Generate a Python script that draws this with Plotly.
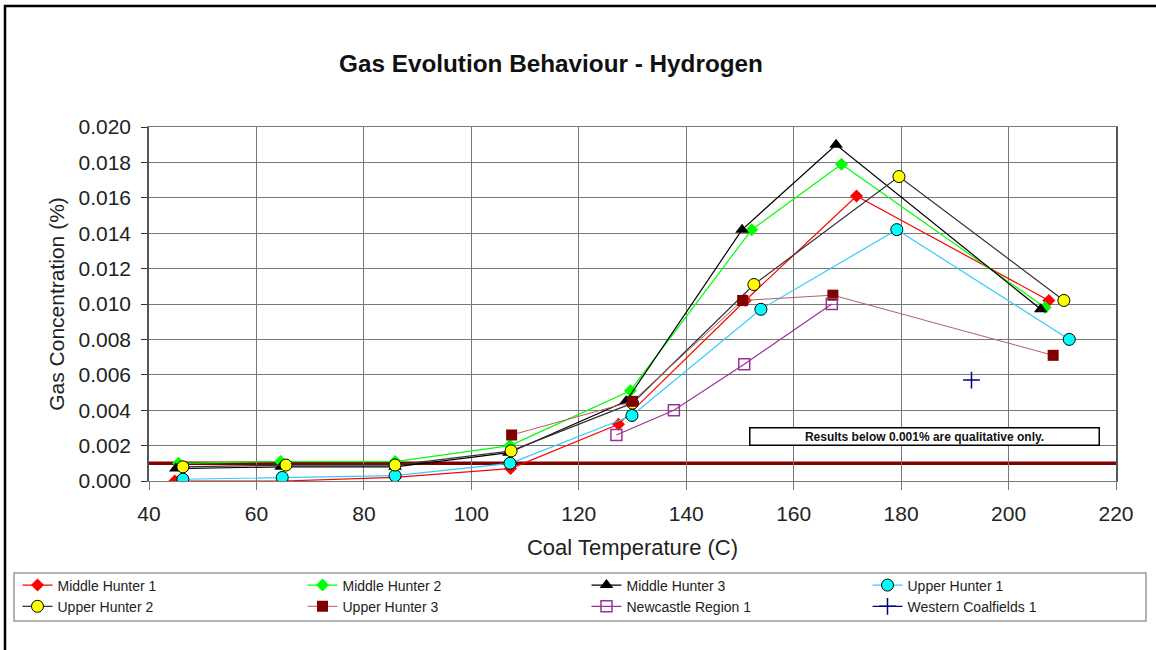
import plotly.graph_objects as go

# ---- data ----
series_names = ["Middle Hunter 1", "Middle Hunter 2", "Middle Hunter 3", "Upper Hunter 1",
                "Upper Hunter 2", "Upper Hunter 3", "Newcastle Region 1", "Western Coalfields 1"]

mh1_x = [44.8, 64.9, 85.8, 107.3, 127.4, 151.0, 171.7, 207.5]
mh1_y = [0.0000, 0.0000, 0.0002, 0.0007, 0.0032, 0.0102, 0.0161, 0.0102]

mh2_x = [45.5, 64.5, 85.8, 107.2, 129.6, 152.2, 168.9, 206.8]
mh2_y = [0.0010, 0.0011, 0.0011, 0.0020, 0.0051, 0.0142, 0.0179, 0.0098]

mh3_x = [45.0, 64.6, 85.8, 107.0, 128.8, 150.4, 167.9, 206.0]
mh3_y = [0.0007, 0.0008, 0.0008, 0.0016, 0.0045, 0.0142, 0.0190, 0.0097]

uh1_x = [46.3, 64.8, 85.8, 107.2, 129.9, 153.9, 179.2, 211.3]
uh1_y = [0.0001, 0.0002, 0.0003, 0.0010, 0.0037, 0.0097, 0.0142, 0.0080]

uh2_x = [46.3, 65.5, 85.8, 107.4, 130.0, 152.6, 179.6, 210.3]
uh2_y = [0.0008, 0.0009, 0.0009, 0.0017, 0.0044, 0.0111, 0.0172, 0.0102]

uh3_x = [107.5, 130.0, 150.5, 167.3, 208.3]
uh3_y = [0.0026, 0.0045, 0.0102, 0.0105, 0.0071]

ncr1_x = [127.0, 137.7, 150.8, 167.1]
ncr1_y = [0.0026, 0.0040, 0.0066, 0.0100]

wc1_x = [193.1]
wc1_y = [0.0057]

threshold = 0.001
note_text = "Results below 0.001% are qualitative only."

x_ticks = [40, 60, 80, 100, 120, 140, 160, 180, 200, 220]
y_ticks = [0.000, 0.002, 0.004, 0.006, 0.008, 0.010, 0.012, 0.014, 0.016, 0.018, 0.020]

# ---- styles ----
styles = [
    dict(line=dict(color="#FF0000", width=1.2), marker=dict(symbol="diamond", size=10, color="#FF0000")),
    dict(line=dict(color="#00FF00", width=1.2), marker=dict(symbol="diamond", size=10, color="#00FF00")),
    dict(line=dict(color="#000000", width=1.2), marker=dict(symbol="triangle-up", size=12, color="#000000")),
    dict(line=dict(color="#33CCFF", width=1.2), marker=dict(symbol="circle", size=12, color="#00FFFF",
                                                        line=dict(color="#000000", width=1))),
    dict(line=dict(color="#333333", width=1.2), marker=dict(symbol="circle", size=12, color="#FFFF00",
                                                        line=dict(color="#000000", width=1))),
    dict(line=dict(color="#B06060", width=1), marker=dict(symbol="square", size=11, color="#800000")),
    dict(line=dict(color="#993399", width=1.2), marker=dict(symbol="square-open", size=11, color="#993399",
                                                        line=dict(width=1.5))),
    dict(line=dict(color="#000080", width=1.2), marker=dict(symbol="cross-thin", size=12, color="#000080",
                                                        line=dict(color="#000080", width=1.5))),
]

# legend column for each series (4 columns x 2 rows, as in the reference)
legend_ids = ["legend", "legend2", "legend3", "legend4", "legend", "legend2", "legend3", "legend4"]
legend_text_px = [58, 343, 627, 908]   # left edge of legend text per column

xs = [mh1_x, mh2_x, mh3_x, uh1_x, uh2_x, uh3_x, ncr1_x, wc1_x]
ys = [mh1_y, mh2_y, mh3_y, uh1_y, uh2_y, uh3_y, ncr1_y, wc1_y]

fig = go.Figure()
for i, (name, x, y, st) in enumerate(zip(series_names, xs, ys, styles)):
    fig.add_trace(go.Scatter(x=x, y=y, name=name, mode="lines+markers",
                             line=st["line"], marker=st["marker"],
                             legend=legend_ids[i], legendrank=i))

FONT = "Liberation Sans, Arial, sans-serif"

# horizontal legends with a very wide entry width wrap to one entry per row,
# giving a 2-row column without reserving side margins
legend_common = dict(orientation="h", xanchor="left", xref="container",
                     y=1 - 569.5/650, yanchor="top", yref="container",
                     bgcolor="rgba(0,0,0,0)", borderwidth=0,
                     font=dict(size=14, color="#222222", family=FONT),
                     itemwidth=30, entrywidth=700, entrywidthmode="pixels",
                     traceorder="normal")

layout_legends = {}
for k, lid in enumerate(["legend", "legend2", "legend3", "legend4"]):
    layout_legends[lid] = dict(legend_common, x=(legend_text_px[k] - 40.5) / 1156)

fig.update_layout(
    width=1156, height=650,
    margin=dict(l=149, r=40, t=127, b=169),
    paper_bgcolor="white", plot_bgcolor="white",
    font=dict(family=FONT, color="#222222"),
    title=dict(text="<b>Gas Evolution Behaviour - Hydrogen</b>", x=551/1156, xanchor="center",
               xref="container", y=1 - 63/650, yanchor="middle", yref="container",
               font=dict(size=24.3, color="#111111")),
    showlegend=True,
    **layout_legends,
)

fig.update_xaxes(range=[40, 220], tickvals=x_ticks, ticktext=[str(v) for v in x_ticks],
                 showgrid=True, gridcolor="#777777", gridwidth=1.3,
                 showline=True, linecolor="#777777", linewidth=1.3, mirror=True,
                 ticks="outside", ticklen=8, tickcolor="#777777", tickwidth=1.3,
                 ticklabelstandoff=6,
                 tickfont=dict(size=21, color="#222222"), zeroline=False,
                 title=dict(text="Coal Temperature (C)", font=dict(size=22, color="#222222"), standoff=15))
fig.update_yaxes(range=[0, 0.020], tickvals=y_ticks, ticktext=[f"{v:.3f}" for v in y_ticks],
                 showgrid=True, gridcolor="#777777", gridwidth=1.3,
                 showline=True, linecolor="#555555", linewidth=1.5, mirror=True,
                 ticks="outside", ticklen=6, tickcolor="#333333", tickwidth=1.3,
                 ticklabelstandoff=6,
                 tickfont=dict(size=21, color="#222222"), zeroline=False,
                 title=dict(text="Gas Concentration (%)", font=dict(size=21, color="#222222"), standoff=8))

# threshold line (between grid and traces)
fig.add_shape(type="line", xref="paper", yref="y", x0=0, x1=1, y0=threshold, y1=threshold,
              line=dict(color="#800000", width=3.5), layer="between")

# note box
fig.add_annotation(x=184.4, y=0.00254, xref="x", yref="y", text=f"<b>{note_text}</b>",
                   showarrow=False, width=348, height=16, bgcolor="white",
                   bordercolor="#000000", borderwidth=1.5, borderpad=0,
                   font=dict(size=12, color="#111111", family=FONT))

# legend frame
fig.add_shape(type="rect", xref="paper", yref="paper",
              x0=(14 - 149) / 967, x1=(1146 - 149) / 967,
              y0=(481 - 621) / 354, y1=(481 - 573) / 354,
              line=dict(color="#999999", width=1.5), fillcolor="rgba(0,0,0,0)", layer="below")

# outer frame
fig.add_shape(type="rect", xref="paper", yref="paper",
              x0=(5 - 149) / 967, x1=(1170 - 149) / 967,
              y0=(481 - 670) / 354, y1=(481 - 6) / 354,
              line=dict(color="#000000", width=2.5), fillcolor="rgba(0,0,0,0)", layer="below")

fig.write_html("out.html", config={"displayModeBar": False},
               post_script="document.body.style.margin='0';document.body.style.overflow='hidden';")
